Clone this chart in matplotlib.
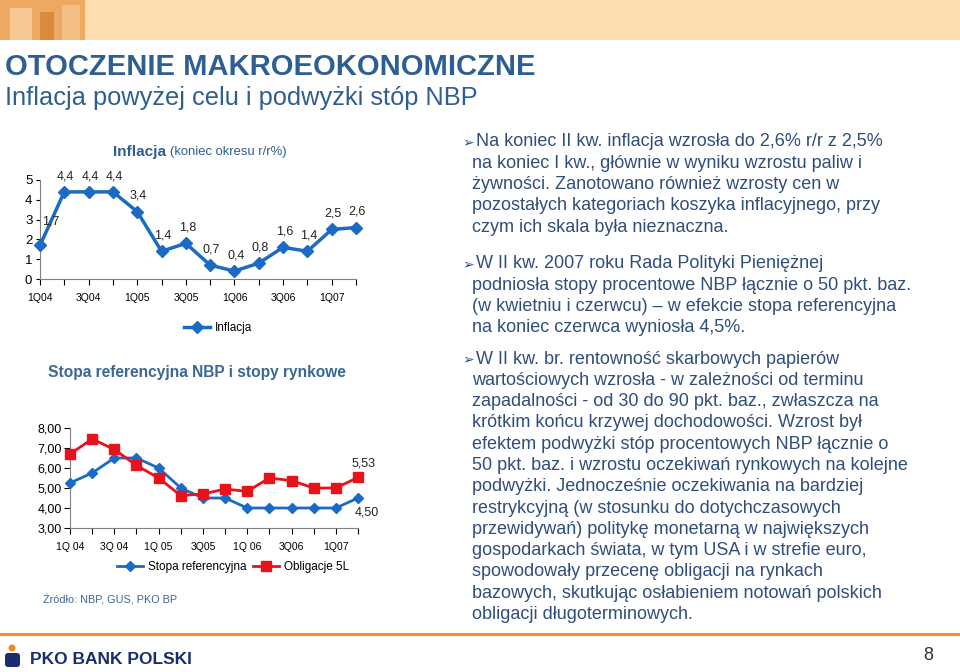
import matplotlib.pyplot as plt
import numpy as np
from matplotlib.patches import Rectangle, Circle, FancyBboxPatch

# data
quarters = ['1Q04', '2Q04', '3Q04', '4Q04', '1Q05', '2Q05', '3Q05', '4Q05',
            '1Q06', '2Q06', '3Q06', '4Q06', '1Q07', '2Q07']
inflation = [1.7, 4.4, 4.4, 4.4, 3.4, 1.4, 1.8, 0.7, 0.4, 0.8, 1.6, 1.4, 2.5, 2.6]
infl_ticklabels = ['1Q04', '', '3Q04', '', '1Q05', '', '3Q05', '', '1Q06', '', '3Q06', '', '1Q07', '']

ref_rate = [5.25, 5.75, 6.5, 6.5, 6.0, 5.0, 4.5, 4.5, 4.0, 4.0, 4.0, 4.0, 4.0, 4.5]
bonds_5y = [6.7, 7.45, 6.93, 6.13, 5.5, 4.62, 4.7, 4.95, 4.83, 5.5, 5.37, 5.0, 5.0, 5.53]
rate_ticklabels = ['1Q 04', '', '3Q 04', '', '1Q 05', '', '3Q05', '', '1Q 06', '', '3Q06', '', '1Q07', '']

blue = '#1B6AC4'
red = '#E8121A'
title_blue = '#2E5E92'
text_blue = '#2F4E7C'
W, H = 960, 672

plt.rcParams['font.family'] = ['Liberation Sans', 'DejaVu Sans']

fig = plt.figure(figsize=(9.6, 6.72), dpi=100)

# overlay in pixel coordinates for the slide decoration and text
bg = fig.add_axes([0, 0, 1, 1])
bg.set_xlim(0, W)
bg.set_ylim(H, 0)
bg.axis('off')

# top banner
bg.add_patch(Rectangle((0, 0), W, 40, color='#FDDDB0', lw=0))
bg.add_patch(Rectangle((0, 0), 85, 40, color='#EDA862', lw=0))
bg.add_patch(Rectangle((10, 8), 22, 32, color='#F6C894', lw=0))
bg.add_patch(Rectangle((40, 12), 14, 28, color='#D98A3C', lw=0))
bg.add_patch(Rectangle((62, 5), 18, 35, color='#F3BF84', lw=0))

bg.text(5, 67, 'OTOCZENIE MAKROEOKONOMICZNE', fontsize=21, fontweight='bold',
        color=title_blue, va='center', ha='left')
bg.text(5, 98, 'Inflacja powyżej celu i podwyżki stóp NBP', fontsize=18.3,
        color=title_blue, va='center', ha='left')

# bottom line and logo
bg.plot([0, W], [634, 634], color='#F08A24', lw=2)
bg.add_patch(Circle((12, 648), 3.5, color='#F08A24', lw=0))
bg.add_patch(FancyBboxPatch((5, 653), 15, 14, boxstyle='round,pad=0,rounding_size=3',
                            color='#1A2E6E', lw=0))
bg.text(30, 660, 'PKO BANK POLSKI', fontsize=12.5, fontweight='bold', color='#1A2E6E',
        va='center', ha='left')
bg.text(928, 656, '8', fontsize=13, color='#333333', va='center', ha='center')

# right-hand commentary
paragraphs = [
    (142, ['Na koniec II kw. inflacja wzrosła do 2,6% r/r z 2,5%',
           'na koniec I kw., głównie w wyniku wzrostu paliw i',
           'żywności. Zanotowano również wzrosty cen w',
           'pozostałych kategoriach koszyka inflacyjnego, przy',
           'czym ich skala była nieznaczna.']),
    (264, ['W II kw. 2007 roku Rada Polityki Pieniężnej',
           'podniosła stopy procentowe NBP łącznie o 50 pkt. baz.',
           '(w kwietniu i czerwcu) – w efekcie stopa referencyjna',
           'na koniec czerwca wyniosła 4,5%.']),
    (359, ['W II kw. br. rentowność skarbowych papierów',
           'wartościowych wzrosła - w zależności od terminu',
           'zapadalności - od 30 do 90 pkt. baz., zwłaszcza na',
           'krótkim końcu krzywej dochodowości. Wzrost był',
           'efektem podwyżki stóp procentowych NBP łącznie o',
           '50 pkt. baz. i wzrostu oczekiwań rynkowych na kolejne',
           'podwyżki. Jednocześnie oczekiwania na bardziej',
           'restrykcyjną (w stosunku do dotychczasowych',
           'przewidywań) politykę monetarną w największych',
           'gospodarkach świata, w tym USA i w strefie euro,',
           'spowodowały przecenę obligacji na rynkach',
           'bazowych, skutkując osłabieniem notowań polskich',
           'obligacji długoterminowych.']),
]
for y0, lines in paragraphs:
    bg.text(462, y0 + 1, '➢', fontsize=10, color=text_blue, family=['DejaVu Sans'],
            va='center', ha='left')
    for i, line in enumerate(lines):
        x = 476 if i == 0 else 472
        bg.text(x, y0 + i * 21.3, line, fontsize=13, color=text_blue,
                va='center', ha='left')

# chart 1: inflation
ax1 = fig.add_axes([40 / W, (H - 279) / H, 316 / W, 99 / H])
x = np.arange(len(quarters))
ax1.plot(x, inflation, color=blue, lw=2.5, marker='D', markersize=6,
         label='Inflacja', clip_on=False, zorder=3)
ax1.set_xlim(0, len(quarters) - 1)
ax1.set_ylim(0, 5)
ax1.set_xticks(x)
ax1.set_xticklabels(infl_ticklabels, fontsize=7.5)
ax1.set_yticks(range(0, 6))
ax1.tick_params(axis='y', labelsize=9.5, length=3, direction='out', pad=2.5)
ax1.tick_params(axis='x', length=4, direction='out', pad=6)
for s in ['top', 'right']:
    ax1.spines[s].set_visible(False)
for s in ['left', 'bottom']:
    ax1.spines[s].set_color('#808080')
for i, v in enumerate(inflation):
    label = f'{v:.1f}'.replace('.', ',')
    dx = 8 if i == 0 else 1
    dy = 13 if i == 0 else 7
    ax1.annotate(label, (i, v), xytext=(dx, dy), textcoords='offset points',
                 ha='center', va='bottom', fontsize=9, color='#222222')
ax1.legend(loc='center', bbox_to_anchor=(218 / W, (H - 328) / H),
           bbox_transform=fig.transFigure, frameon=False, fontsize=8.5,
           handlelength=2.2, handletextpad=0.4)

bg.text(113, 152, 'Inflacja', fontsize=11, fontweight='bold', color=title_blue,
        va='center', ha='left')
bg.text(170, 152, '(koniec okresu r/r%)', fontsize=9.4, color=title_blue,
        va='center', ha='left')

# chart 2: NBP reference rate and market rates
ax2 = fig.add_axes([70 / W, (H - 528) / H, 288 / W, 100 / H])
ax2.plot(x, ref_rate, color=blue, lw=2, marker='D', markersize=5.5,
         label='Stopa referencyjna', clip_on=False, zorder=3)
ax2.plot(x, bonds_5y, color=red, lw=2, marker='s', markersize=6.5,
         label='Obligacje 5L', clip_on=False, zorder=3)
ax2.set_xlim(0, len(quarters) - 1)
ax2.set_ylim(3, 8)
ax2.set_xticks(x)
ax2.set_xticklabels(rate_ticklabels, fontsize=7.5)
ax2.set_yticks(range(3, 9))
ax2.set_yticklabels([f'{v},00' for v in range(3, 9)])
ax2.tick_params(axis='y', labelsize=9, length=4, direction='out', pad=2)
ax2.tick_params(axis='x', length=4, direction='out', pad=6)
for s in ['top', 'right']:
    ax2.spines[s].set_visible(False)
for s in ['left', 'bottom']:
    ax2.spines[s].set_color('#808080')
last = len(quarters) - 1
ax2.annotate(f'{bonds_5y[-1]:.2f}'.replace('.', ','), (last, bonds_5y[-1]),
             xytext=(4, 6), textcoords='offset points', ha='center', va='bottom',
             fontsize=9, color='#222222')
ax2.annotate(f'{ref_rate[-1]:.2f}'.replace('.', ','), (last, ref_rate[-1]),
             xytext=(6, -6), textcoords='offset points', ha='center', va='top',
             fontsize=9, color='#222222')
ax2.legend(loc='center', bbox_to_anchor=(233 / W, (H - 567) / H),
           bbox_transform=fig.transFigure, frameon=False, fontsize=8.5, ncol=2,
           handlelength=2.2, handletextpad=0.4, columnspacing=0.6)

bg.text(197, 373, 'Stopa referencyjna NBP i stopy rynkowe', fontsize=11.2,
        fontweight='bold', color='#3A6796', va='center', ha='center')
bg.text(43, 600, 'Źródło: NBP, GUS, PKO BP', fontsize=7.8, color='#3A6796',
        va='center', ha='left')

fig.savefig('out.png', dpi=100)
